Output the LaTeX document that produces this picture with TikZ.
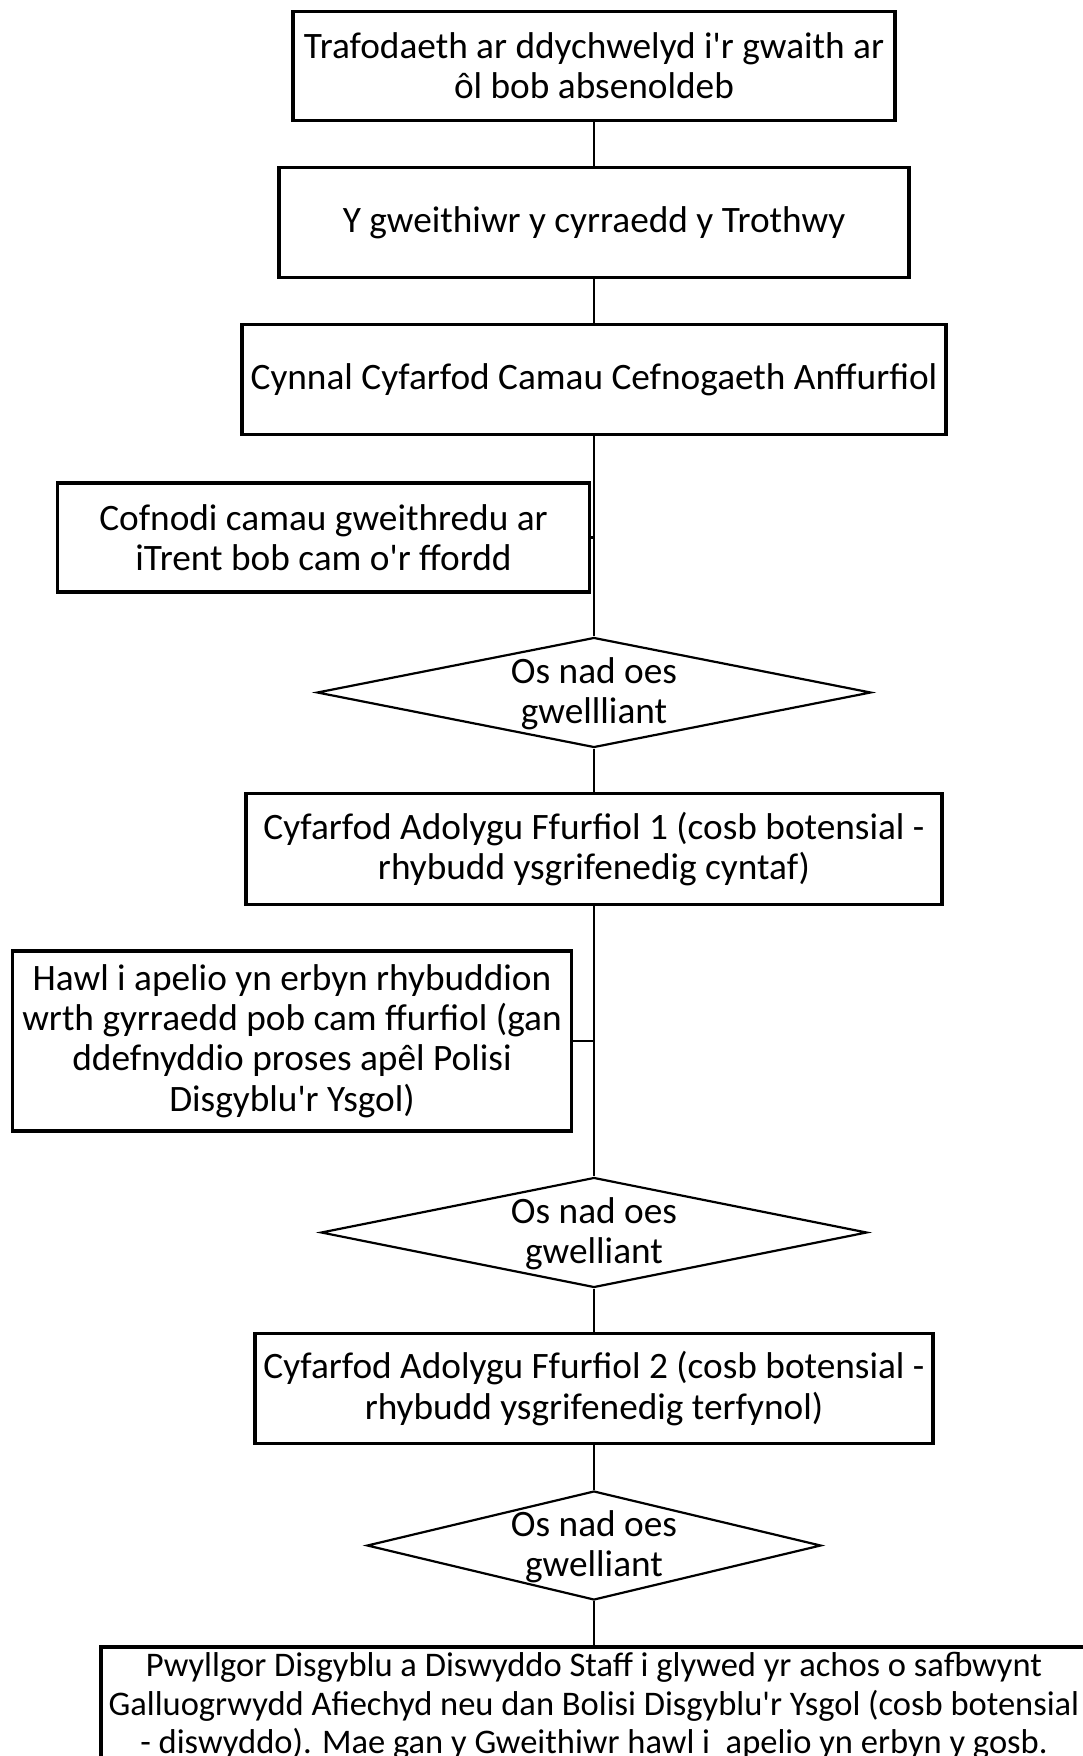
\documentclass[tikz,border=0pt]{standalone}
\usepackage{fontspec}
\setmainfont{Carlito}[Ligatures=TeXOff]
\usetikzlibrary{shapes.geometric}
\begin{document}
\begin{tikzpicture}[x=1pt,y=-1pt,
  box/.style={draw=black, line width=3.2pt, rectangle, inner sep=0pt, align=center,
    font=\fontsize{37.3}{40.3}\selectfont},
  dia/.style={draw=black, line width=2.2pt, diamond, inner sep=0pt},
  dtext/.style={align=center, inner sep=0pt, font=\fontsize{37.3}{40.3}\selectfont},
  conn/.style={draw=black, line width=2.6pt}]
\useasboundingbox (0,0) rectangle (1083,1756);
\clip (0,0) rectangle (1083,1756);

\node[box, minimum width=602pt, minimum height=109pt] (b1) at (594,66)
  {Trafodaeth ar ddychwelyd i'r gwaith ar\\ôl bob absenoldeb};
\node[box, minimum width=630pt, minimum height=110pt] (b2) at (594,222.5)
  {Y gweithiwr y cyrraedd y Trothwy};
\node[box, minimum width=704pt, minimum height=110pt] (b3) at (594,379.5)
  {Cynnal Cyfarfod Camau Cefnogaeth Anffurfiol};
\node[box, minimum width=532pt, minimum height=109pt] (b4) at (323.5,537.5)
  {Cofnodi camau gweithredu ar\\iTrent bob cam o'r ffordd};
\node[dia, minimum width=554pt, minimum height=110pt] (d1) at (594,692.5) {};
\node[dtext] (d1t) at (594,694) {Os nad oes\\gwellliant};
\node[box, minimum width=696pt, minimum height=111pt] (b5) at (594,849)
  {Cyfarfod Adolygu Ffurfiol 1 (cosb botensial -\\rhybudd ysgrifenedig cyntaf)};
\node[box, minimum width=559pt, minimum height=180pt] (b6) at (292,1041)
  {Hawl i apelio yn erbyn rhybuddion\\wrth gyrraedd pob cam ffurfiol (gan\\ddefnyddio proses apêl Polisi\\Disgyblu'r Ysgol)};
\node[dia, minimum width=546pt, minimum height=110pt] (d2) at (594,1232.5) {};
\node[dtext] (d2t) at (594,1234) {Os nad oes\\gwelliant};
\node[box, minimum width=678pt, minimum height=110pt] (b7) at (594,1388.5)
  {Cyfarfod Adolygu Ffurfiol 2 (cosb botensial -\\rhybudd ysgrifenedig terfynol)};
\node[dia, minimum width=454pt, minimum height=109pt] (d3) at (594,1545.5) {};
\node[dtext] (d3t) at (594,1547) {Os nad oes\\gwelliant};
\node[box, minimum width=986pt, minimum height=220pt] (b8) at (594,1757) {};
\node[dtext, font=\fontsize{34.5}{38.6}\selectfont] (b8t) at (594,1706)
  {Pwyllgor Disgyblu a Diswyddo Staff i glywed yr achos o safbwynt\\Galluogrwydd Afiechyd neu dan Bolisi Disgyblu'r Ysgol (cosb botensial\\- diswyddo). Mae gan y Gweithiwr hawl i \ apelio yn erbyn y gosb.};

\draw[conn] (b1.south) -- (b2.north);
\draw[conn] (b2.south) -- (b3.north);
\draw[conn] (b3.south) -- (d1.north);
\draw[conn] (b4.east) -- (b4.east -| d1.north);
\draw[conn] (d1.south) -- (b5.north);
\draw[conn] (b5.south) -- (d2.north);
\draw[conn] (b6.east) -- (b6.east -| d2.north);
\draw[conn] (d2.south) -- (b7.north);
\draw[conn] (b7.south) -- (d3.north);
\draw[conn] (d3.south) -- (b8.north);
\end{tikzpicture}
\end{document}
